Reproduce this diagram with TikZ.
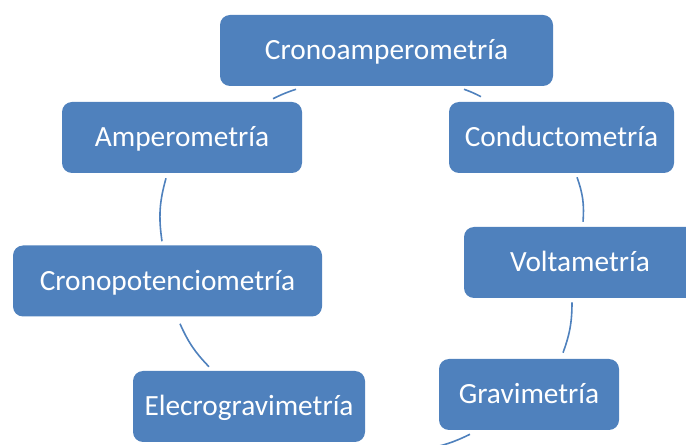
\documentclass[tikz,border=0pt]{standalone}
\usepackage{fontspec}
\setmainfont{Carlito}
\usepackage{tikz}
\definecolor{boxblue}{RGB}{79, 129, 189}
\definecolor{linkblue}{RGB}{79, 129, 189}

\begin{document}
\begin{tikzpicture}[x=0.75pt, y=-0.75pt,
    method/.style={rectangle, rounded corners=7.5pt, fill=boxblue, text=white,
      font=\fontsize{22}{26}\selectfont, minimum height=53.25pt, inner sep=0pt,
      text height=18pt, text depth=3.75pt},
    link/.style={linkblue, line width=1.2pt}]
\useasboundingbox (0,0) rectangle (686,445);
\node[method, minimum width=249.75pt] (crono) at (386.5,50.5) {Cronoamperometría};
\node[method, minimum width=180pt] (amp) at (182,137.5) {Amperometría};
\node[method, minimum width=231.75pt] (cpot) at (167.5,281) {Cronopotenciometría};
\node[method, minimum width=174pt] (elec) at (249,406.5) {Elecrogravimetría};
\node[method, minimum width=168.75pt] (cond) at (561.5,137.5) {Conductometría};
\node[method, minimum width=174pt] (volt) at (580,262.5) {Voltametría};
\node[method, minimum width=135pt] (grav) at (529,394.5) {Gravimetría};
\coordinate (tail) at (425,449);
\draw[link] ([shift={(-90.5,3)}]crono.south) to[bend right=4] ([shift={(91,-3)}]amp.north);
\draw[link] ([shift={(-16,5)}]amp.south) to[bend right=12] ([shift={(-5.5,-4)}]cpot.north);
\draw[link] ([shift={(12.5,7)}]cpot.south) to[bend right=10] ([shift={(-40,-4)}]elec.north);
\draw[link] ([shift={(77.5,3)}]crono.south) to[bend left=4] ([shift={(-80.5,-5)}]cond.north);
\draw[link] ([shift={(15.5,4)}]cond.south) to[bend left=12] ([shift={(3,-5)}]volt.north);
\draw[link] ([shift={(-8,4)}]volt.south) to[bend left=10] ([shift={(34,-6)}]grav.north);
\draw[link] ([shift={(-59,4)}]grav.south) to[bend left=8] (tail);
\end{tikzpicture}
\end{document}
